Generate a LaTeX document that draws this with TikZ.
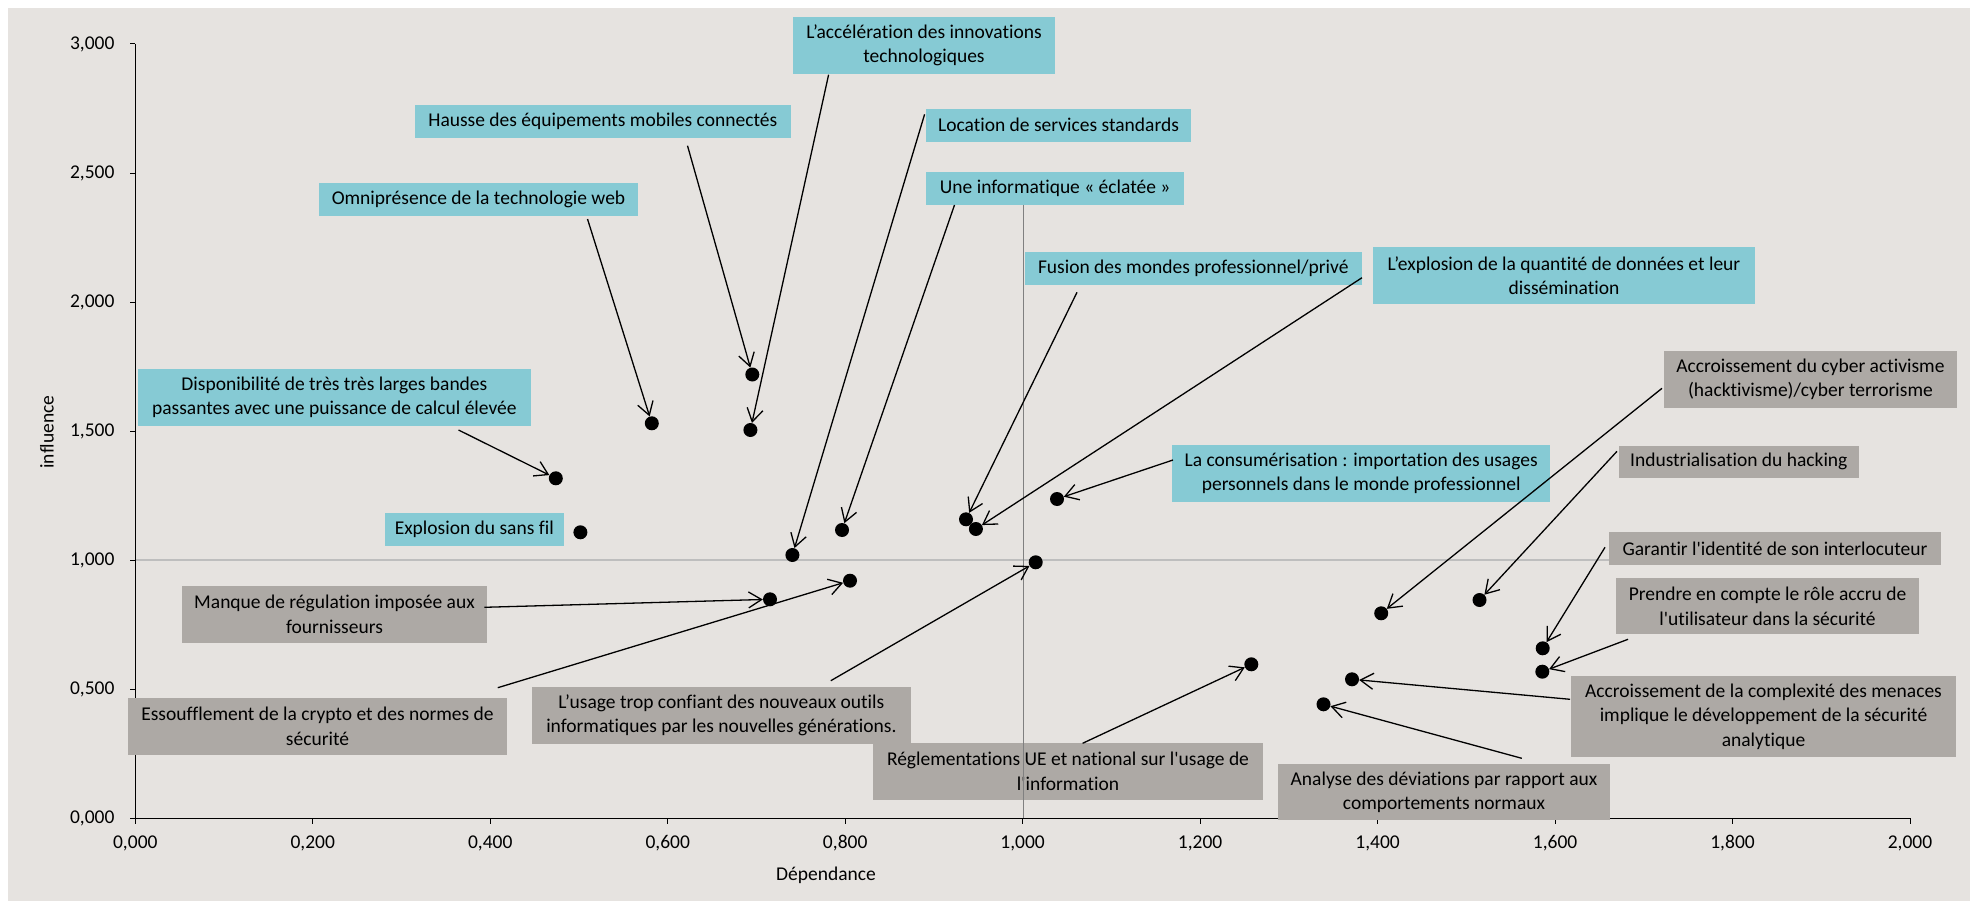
\documentclass[tikz,border=0pt]{standalone}
\usepackage{fontspec}
\setmainfont{Carlito}[Ligatures=NoCommon]
\usetikzlibrary{arrows.meta}
\definecolor{bgc}{RGB}{230,227,224}
\definecolor{tealc}{RGB}{134,202,212}
\definecolor{grayc}{RGB}{173,169,165}
\definecolor{hline}{RGB}{190,190,190}
\definecolor{vline}{RGB}{128,128,128}
\newcommand{\sq}{\textquotesingle}
\tikzset{
  lbl/.style={font=\fontsize{19.5}{24.5}\selectfont, text=black},
  tbox/.style={lbl, fill=tealc, inner sep=0pt, align=center},
  gbox/.style={lbl, fill=grayc, inner sep=0pt, align=center},
  dot/.style={circle, fill=black, inner sep=0pt, minimum size=14pt},
  conn/.style={draw=black, line width=1.3pt, -{Straight Barb[length=13pt,width=16pt,line width=1.3pt]}},
  tick/.style={draw=black, line width=1pt},
}
\begin{document}
\begin{tikzpicture}[x=1pt,y=-1pt]
\useasboundingbox (0,0) rectangle (1970,901);
\fill[white] (0,0) rectangle (1970,901);
\fill[bgc] (8,8) rectangle (1970,901);
% crosshair horizontal (under boxes)
\draw[hline, line width=1.5pt] (135.3,560.2) -- (1910,560.2);
% axes
\draw[black, line width=1.3pt] (135.3,44) -- (135.3,818.3) -- (1910,818.3);
% y ticks and labels
\foreach \v/\t in {0/{0,000},1/{0,500},2/{1,000},3/{1,500},4/{2,000},5/{2,500},6/{3,000}}{
  \draw[tick] (130,{818.3-129.05*\v}) -- (135.3,{818.3-129.05*\v});
  \node[lbl, anchor=east] (yl\v) at (118,{818.3-129.05*\v}) {\t};
}
% x ticks and labels
\foreach \v/\t in {0/{0,000},1/{0,200},2/{0,400},3/{0,600},4/{0,800},5/{1,000},6/{1,200},7/{1,400},8/{1,600},9/{1,800},10/{2,000}}{
  \draw[tick] ({135.3+177.47*\v},818.3) -- ({135.3+177.47*\v},823.5);
  \node[lbl] (xl\v) at ({135.3+177.47*\v},843.3) {\t};
}
\node[lbl, rotate=90] (ytitle) at (47,432) {influence};
\node[lbl] (xtitle) at (826,875) {Dépendance};

% boxes
\node[tbox, minimum width=262pt, minimum height=56.4pt] (A) at (924,45.5) {L’accélération des innovations\\technologiques};
\node[tbox, minimum width=375.6pt, minimum height=32.4pt] (B) at (602.8,121.5) {Hausse des équipements mobiles connectés};
\node[tbox, minimum width=319pt, minimum height=32.7pt] (C) at (478.5,199.3) {Omniprésence de la technologie web};
\node[tbox, minimum width=392.8pt, minimum height=56.4pt] (D) at (334.4,397.5) {Disponibilité de très très larges bandes\\passantes avec une puissance de calcul élevée};
\node[tbox, minimum width=265pt, minimum height=32.7pt] (E) at (1058.5,125.3) {Location de services standards};
\node[tbox, minimum width=258.5pt, minimum height=32.7pt] (F) at (1055.2,188.3) {Une informatique « éclatée »};
\node[tbox, minimum width=336.6pt, minimum height=32.4pt] (G) at (1193.3,268.5) {Fusion des mondes professionnel/privé};
\node[tbox, minimum width=382pt, minimum height=56.4pt] (H) at (1564,275.5) {L’explosion de la quantité de données et leur\\dissémination};
\node[tbox, minimum width=378.5pt, minimum height=56.7pt] (I) at (1361.2,473.3) {La consumérisation : importation des usages\\personnels dans le monde professionnel};
\node[tbox, minimum width=179pt, minimum height=32.7pt] (J) at (474.3,529.3) {Explosion du sans fil};
\node[gbox, minimum width=292.8pt, minimum height=56.7pt] (K) at (1810.4,379.3) {Accroissement du cyber activisme\\(hacktivisme)/cyber terrorisme};
\node[gbox, minimum width=239.5pt, minimum height=31.7pt] (L) at (1738.8,461.8) {Industrialisation du hacking};
\node[gbox, minimum width=332pt, minimum height=32.4pt] (M) at (1775,548.5) {Garantir l\sq identité de son interlocuteur};
\node[gbox, minimum width=303pt, minimum height=56pt] (N) at (1767.5,606.3) {Prendre en compte le rôle accru de\\l\sq utilisateur dans la sécurité};
\node[gbox, minimum width=385pt, minimum height=80.4pt] (O) at (1763.5,716.5) {Accroissement de la complexité des menaces\\implique le développement de la sécurité\\analytique};
\node[gbox, minimum width=332pt, minimum height=56.3pt] (P) at (1444,792.2) {Analyse des déviations par rapport aux\\comportements normaux};
\node[gbox, minimum width=390pt, minimum height=56.4pt] (Q) at (1068,771.5) {Réglementations UE et national sur l\sq usage de\\l\sq information};
\node[gbox, minimum width=378.7pt, minimum height=56.4pt] (R) at (721.4,715.5) {L’usage trop confiant des nouveaux outils\\informatiques par les nouvelles générations.};
\node[gbox, minimum width=379pt, minimum height=56.7pt] (S) at (317.5,726.3) {Essoufflement de la crypto et des normes de\\sécurité};
\node[gbox, minimum width=305pt, minimum height=56.7pt] (T) at (334.5,614.3) {Manque de régulation imposée aux\\fournisseurs};

% crosshair vertical (over boxes)
\draw[vline, line width=1pt] (1023,205) -- (1023,818.3);

% data points
\node[dot] (p1) at (651.8,423.3) {};
\node[dot] (p2) at (752.3,374.5) {};
\node[dot] (p3) at (750.4,430) {};
\node[dot] (p4) at (555.8,478.3) {};
\node[dot] (p5) at (580.4,532.3) {};
\node[dot] (p6) at (792.4,555) {};
\node[dot] (p7) at (842,530) {};
\node[dot] (p8) at (966,519.3) {};
\node[dot] (p9) at (975.9,529) {};
\node[dot] (p10) at (1057,499) {};
\node[dot] (p11) at (770,599.3) {};
\node[dot] (p12) at (850,580.7) {};
\node[dot] (p13) at (1035.7,562.3) {};
\node[dot] (p14) at (1251.3,664.3) {};
\node[dot] (p15) at (1352,679.3) {};
\node[dot] (p16) at (1323.5,704.3) {};
\node[dot] (p17) at (1381.2,613.3) {};
\node[dot] (p18) at (1479.5,600) {};
\node[dot] (p19) at (1542.7,648.3) {};
\node[dot] (p20) at (1542.3,671.7) {};

% connector start points
\coordinate (s1) at (587.5,219);
\coordinate (s2) at (687.5,145.7);
\coordinate (s3) at (828.6,74.7);
\coordinate (s4) at (458.5,430);
\coordinate (s6) at (924.6,114.3);
\coordinate (s7) at (954.5,205);
\coordinate (s8) at (1077,292.3);
\coordinate (s9) at (1362,277.7);
\coordinate (s10) at (1173,460);
\coordinate (s11) at (484.4,607.3);
\coordinate (s12) at (497.8,687.7);
\coordinate (s13) at (830.8,680.7);
\coordinate (s14) at (1082.6,743.3);
\coordinate (s15) at (1570,699.3);
\coordinate (s16) at (1521.8,758.3);
\coordinate (s17) at (1662,388.3);
\coordinate (s18) at (1617,451.3);
\coordinate (s19) at (1605,547.3);
\coordinate (s20) at (1628,639.3);

\foreach \i in {1,2,3,4,6,7,8,9,10,11,12,13,14,15,16,17,18,19,20}{
  \draw[conn] (s\i) -- (p\i);
}
\end{tikzpicture}
\end{document}
